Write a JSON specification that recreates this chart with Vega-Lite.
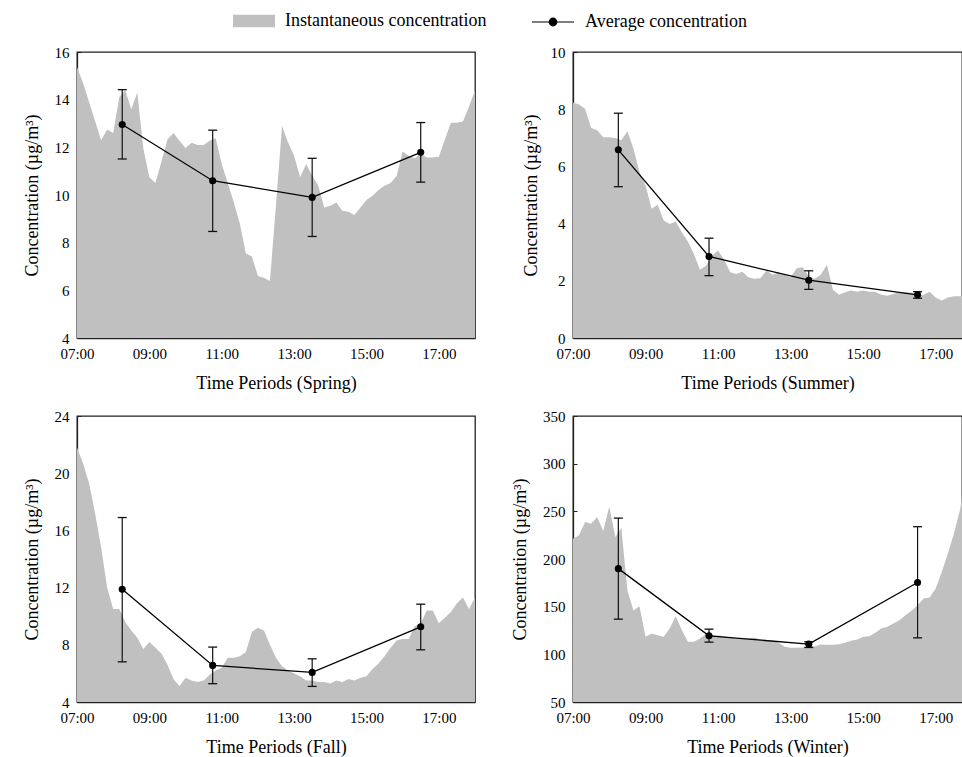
{
"$schema": "https://vega.github.io/schema/vega-lite/v6.json",
"padding": {"left": 22, "top": 0, "right": 0, "bottom": 0},
"config": {
  "font": "Liberation Serif",
  "view": {"stroke": "#222", "strokeWidth": 1.3},
  "axis": {"labelFont": "Liberation Serif", "titleFont": "Liberation Serif", "labelFontSize": 15, "titleFontSize": 18, "titleFontWeight": "normal", "labelColor": "#000", "titleColor": "#000", "domainColor": "#222", "domainWidth": 1.3, "tickColor": "#222", "tickWidth": 1, "tickSize": -4, "labelPadding": 12, "labelFlush": false, "labelOverlap": false, "grid": false},
  "axisX": {"titlePadding": 13},
  "axisY": {"titlePadding": 13},
  "legend": {"orient": "none", "direction": "horizontal", "title": null, "padding": 0, "labelFont": "Liberation Serif", "labelFontSize": 18, "labelColor": "#000", "labelLimit": 400, "labelOffset": 10, "symbolSize": 1764, "symbolOpacity": 1}
},
"datasets": {
  "area": [
    {"t": 7, "spring": 15.37, "summer": 8.23, "fall": 21.8, "winter": 221.3},
    {"t": 7.167, "spring": 14.7, "summer": 8.16, "fall": 20.7, "winter": 224.8},
    {"t": 7.333, "spring": 13.9, "summer": 8.02, "fall": 19.3, "winter": 238.7},
    {"t": 7.5, "spring": 13.1, "summer": 7.34, "fall": 17.2, "winter": 237},
    {"t": 7.667, "spring": 12.3, "summer": 7.26, "fall": 14.8, "winter": 244},
    {"t": 7.833, "spring": 12.75, "summer": 7.02, "fall": 12.0, "winter": 229.3},
    {"t": 8, "spring": 12.6, "summer": 7.02, "fall": 10.5, "winter": 255},
    {"t": 8.167, "spring": 14.1, "summer": 6.99, "fall": 10.5, "winter": 223},
    {"t": 8.333, "spring": 14.4, "summer": 6.91, "fall": 9.6, "winter": 232.8},
    {"t": 8.5, "spring": 13.6, "summer": 7.23, "fall": 9.0, "winter": 167},
    {"t": 8.667, "spring": 14.3, "summer": 6.62, "fall": 8.5, "winter": 146},
    {"t": 8.833, "spring": 11.95, "summer": 5.8, "fall": 7.7, "winter": 150.5},
    {"t": 9, "spring": 10.75, "summer": 5.33, "fall": 8.2, "winter": 118.4},
    {"t": 9.167, "spring": 10.5, "summer": 4.52, "fall": 7.8, "winter": 121.9},
    {"t": 9.333, "spring": 11.4, "summer": 4.66, "fall": 7.4, "winter": 120},
    {"t": 9.5, "spring": 12.33, "summer": 4.11, "fall": 6.6, "winter": 118.4},
    {"t": 9.667, "spring": 12.6, "summer": 3.99, "fall": 5.6, "winter": 127},
    {"t": 9.833, "spring": 12.28, "summer": 4.07, "fall": 5.1, "winter": 140},
    {"t": 10, "spring": 11.97, "summer": 3.7, "fall": 5.7, "winter": 125.4},
    {"t": 10.167, "spring": 12.19, "summer": 3.37, "fall": 5.5, "winter": 113.2},
    {"t": 10.333, "spring": 12.1, "summer": 2.94, "fall": 5.4, "winter": 113.2},
    {"t": 10.5, "spring": 12.1, "summer": 2.39, "fall": 5.5, "winter": 116.6},
    {"t": 10.667, "spring": 12.28, "summer": 2.53, "fall": 5.9, "winter": 121.2},
    {"t": 10.833, "spring": 12.38, "summer": 2.88, "fall": 6.2, "winter": 120},
    {"t": 11, "spring": 11.3, "summer": 3.06, "fall": 6.4, "winter": 120},
    {"t": 11.167, "spring": 10.5, "summer": 2.74, "fall": 7.1, "winter": 119},
    {"t": 11.333, "spring": 9.7, "summer": 2.3, "fall": 7.1, "winter": 117.7},
    {"t": 11.5, "spring": 8.8, "summer": 2.24, "fall": 7.2, "winter": 116.6},
    {"t": 11.667, "spring": 7.55, "summer": 2.32, "fall": 7.5, "winter": 116.6},
    {"t": 11.833, "spring": 7.42, "summer": 2.12, "fall": 8.9, "winter": 116.6},
    {"t": 12, "spring": 6.6, "summer": 2.07, "fall": 9.2, "winter": 117.7},
    {"t": 12.167, "spring": 6.53, "summer": 2.09, "fall": 9.0, "winter": 115.6},
    {"t": 12.333, "spring": 6.39, "summer": 2.36, "fall": 8.0, "winter": 114.9},
    {"t": 12.5, "spring": 9.6, "summer": 2.21, "fall": 7.1, "winter": 114.2},
    {"t": 12.667, "spring": 12.89, "summer": 2.3, "fall": 6.5, "winter": 112.1},
    {"t": 12.833, "spring": 12.2, "summer": 2.21, "fall": 6.2, "winter": 108},
    {"t": 13, "spring": 11.65, "summer": 2.12, "fall": 6.0, "winter": 106.9},
    {"t": 13.167, "spring": 10.74, "summer": 2.44, "fall": 5.8, "winter": 106.9},
    {"t": 13.333, "spring": 11.3, "summer": 2.47, "fall": 5.5, "winter": 107.2},
    {"t": 13.5, "spring": 10.81, "summer": 2.16, "fall": 5.5, "winter": 108},
    {"t": 13.667, "spring": 10.4, "summer": 2.07, "fall": 5.4, "winter": 108.6},
    {"t": 13.833, "spring": 9.48, "summer": 2.21, "fall": 5.4, "winter": 110.4},
    {"t": 14, "spring": 9.55, "summer": 2.56, "fall": 5.3, "winter": 110},
    {"t": 14.167, "spring": 9.69, "summer": 1.69, "fall": 5.5, "winter": 110},
    {"t": 14.333, "spring": 9.34, "summer": 1.51, "fall": 5.4, "winter": 110.7},
    {"t": 14.5, "spring": 9.3, "summer": 1.6, "fall": 5.6, "winter": 112.1},
    {"t": 14.667, "spring": 9.16, "summer": 1.66, "fall": 5.5, "winter": 114.2},
    {"t": 14.833, "spring": 9.48, "summer": 1.62, "fall": 5.7, "winter": 115.6},
    {"t": 15, "spring": 9.79, "summer": 1.66, "fall": 5.8, "winter": 118.4},
    {"t": 15.167, "spring": 9.97, "summer": 1.62, "fall": 6.3, "winter": 119.1},
    {"t": 15.333, "spring": 10.21, "summer": 1.62, "fall": 6.7, "winter": 122.6},
    {"t": 15.5, "spring": 10.39, "summer": 1.51, "fall": 7.2, "winter": 127.1},
    {"t": 15.667, "spring": 10.5, "summer": 1.48, "fall": 7.8, "winter": 128.9},
    {"t": 15.833, "spring": 10.8, "summer": 1.54, "fall": 8.3, "winter": 132.4},
    {"t": 16, "spring": 11.82, "summer": 1.6, "fall": 8.4, "winter": 135.8},
    {"t": 16.167, "spring": 11.65, "summer": 1.6, "fall": 8.4, "winter": 141},
    {"t": 16.333, "spring": 11.54, "summer": 1.58, "fall": 9.3, "winter": 145.6},
    {"t": 16.5, "spring": 11.72, "summer": 1.48, "fall": 9.5, "winter": 151.5},
    {"t": 16.667, "spring": 11.57, "summer": 1.51, "fall": 10.4, "winter": 158.5},
    {"t": 16.833, "spring": 11.57, "summer": 1.62, "fall": 10.4, "winter": 159.6},
    {"t": 17, "spring": 11.6, "summer": 1.42, "fall": 9.5, "winter": 169},
    {"t": 17.167, "spring": 12.33, "summer": 1.31, "fall": 9.9, "winter": 186.4},
    {"t": 17.333, "spring": 13.03, "summer": 1.42, "fall": 10.3, "winter": 205.6},
    {"t": 17.5, "spring": 13.03, "summer": 1.46, "fall": 10.9, "winter": 226.5},
    {"t": 17.667, "spring": 13.08, "summer": 1.46, "fall": 11.3, "winter": 251},
    {"t": 17.833, "spring": 13.7, "summer": 1.42, "fall": 10.5, "winter": 290},
    {"t": 18, "spring": 14.4, "summer": 1.45, "fall": 11.3, "winter": 320}
  ],
  "avg": [
    {"season": "Spring", "t": 8.25, "mean": 12.96, "lo": 11.51, "hi": 14.42},
    {"season": "Spring", "t": 10.75, "mean": 10.6, "lo": 8.47, "hi": 12.72},
    {"season": "Spring", "t": 13.5, "mean": 9.9, "lo": 8.26, "hi": 11.54},
    {"season": "Spring", "t": 16.5, "mean": 11.79, "lo": 10.54, "hi": 13.04},
    {"season": "Summer", "t": 8.25, "mean": 6.58, "lo": 5.29, "hi": 7.86},
    {"season": "Summer", "t": 10.75, "mean": 2.85, "lo": 2.18, "hi": 3.49},
    {"season": "Summer", "t": 13.5, "mean": 2.02, "lo": 1.70, "hi": 2.35},
    {"season": "Summer", "t": 16.5, "mean": 1.51, "lo": 1.39, "hi": 1.62},
    {"season": "Fall", "t": 8.25, "mean": 11.88, "lo": 6.81, "hi": 16.9},
    {"season": "Fall", "t": 10.75, "mean": 6.56, "lo": 5.28, "hi": 7.84},
    {"season": "Fall", "t": 13.5, "mean": 6.07, "lo": 5.09, "hi": 7.02},
    {"season": "Fall", "t": 16.5, "mean": 9.26, "lo": 7.65, "hi": 10.84},
    {"season": "Winter", "t": 8.25, "mean": 189.9, "lo": 136.9, "hi": 242.9},
    {"season": "Winter", "t": 10.75, "mean": 119.4, "lo": 112.8, "hi": 126.4},
    {"season": "Winter", "t": 13.5, "mean": 110.7, "lo": 107.2, "hi": 113.2},
    {"season": "Winter", "t": 16.5, "mean": 175.3, "lo": 117.3, "hi": 233.9}
  ]
},
"columns": 2,
"spacing": {"row": 78, "column": 98},
"bounds": "flush",
"resolve": {"scale": {"fill": "shared", "stroke": "shared"}},
"concat": [
  {
    "width": 398, "height": 286,
    "encoding": {"x": {"field": "t", "type": "quantitative", "scale": {"domain": [7, 18], "nice": false, "zero": false}, "axis": {"values": [7, 9, 11, 13, 15, 17], "labelExpr": "(datum.value < 10 ? '0' : '') + datum.value + ':00'", "title": "Time Periods (Spring)"}}},
    "layer": [
      {"data": {"name": "area"}, "mark": {"type": "area", "clip": true, "opacity": 1},
       "encoding": {
         "y": {"field": "spring", "type": "quantitative", "scale": {"domain": [4, 16], "nice": false, "zero": false}, "axis": {"values": [4, 6, 8, 10, 12, 14, 16], "title": "Concentration (µg/m³)"}},
         "fill": {"datum": "Instantaneous concentration", "type": "nominal", "scale": {"domain": ["Instantaneous concentration"], "range": ["#c0c0c0"]},
           "legend": {"legendX": 156, "legendY": -52, "symbolType": "M-1,-0.3H1V0.3H-1Z", "symbolStrokeWidth": 0}}
       }},
      {"data": {"name": "avg"}, "transform": [{"filter": "datum.season === 'Spring'"}],
       "layer": [
         {"mark": {"type": "rule", "color": "#111", "strokeWidth": 1.2}, "encoding": {"y": {"field": "lo", "type": "quantitative", "scale": {"domain": [4, 16], "nice": false, "zero": false}}, "y2": {"field": "hi"}}},
         {"mark": {"type": "tick", "orient": "horizontal", "color": "#111", "size": 9, "thickness": 1.3, "opacity": 1}, "encoding": {"y": {"field": "lo", "type": "quantitative", "scale": {"domain": [4, 16], "nice": false, "zero": false}}}},
         {"mark": {"type": "tick", "orient": "horizontal", "color": "#111", "size": 9, "thickness": 1.3, "opacity": 1}, "encoding": {"y": {"field": "hi", "type": "quantitative", "scale": {"domain": [4, 16], "nice": false, "zero": false}}}},
         {"mark": {"type": "line", "strokeWidth": 1.3}, "encoding": {"y": {"field": "mean", "type": "quantitative", "scale": {"domain": [4, 16], "nice": false, "zero": false}},
            "stroke": {"datum": "Average concentration", "type": "nominal", "scale": {"domain": ["Average concentration"], "range": ["#000000"]},
              "legend": {"legendX": 454, "legendY": -52, "symbolType": "M-1,0H1M0.18,0A0.18,0.18,0,1,1,-0.18,0A0.18,0.18,0,1,1,0.18,0", "symbolStrokeWidth": 1.2, "symbolFillColor": "#000"}}}},
         {"mark": {"type": "point", "filled": true, "color": "#000", "size": 50, "opacity": 1}, "encoding": {"y": {"field": "mean", "type": "quantitative", "scale": {"domain": [4, 16], "nice": false, "zero": false}}}}
       ]}
    ]
  },
  {
    "width": 389, "height": 286,
    "encoding": {"x": {"field": "t", "type": "quantitative", "scale": {"domain": [7, 17.725], "nice": false, "zero": false}, "axis": {"values": [7, 9, 11, 13, 15, 17], "labelExpr": "(datum.value < 10 ? '0' : '') + datum.value + ':00'", "title": "Time Periods (Summer)"}}},
    "layer": [
      {"data": {"name": "area"}, "mark": {"type": "area", "clip": true, "opacity": 1, "color": "#c0c0c0"},
       "encoding": {
         "y": {"field": "summer", "type": "quantitative", "scale": {"domain": [0, 10], "nice": false, "zero": false}, "axis": {"values": [0, 2, 4, 6, 8, 10], "title": "Concentration (µg/m³)", "titlePadding": 10}}
       }},
      {"data": {"name": "avg"}, "transform": [{"filter": "datum.season === 'Summer'"}],
       "layer": [
         {"mark": {"type": "rule", "color": "#111", "strokeWidth": 1.2}, "encoding": {"y": {"field": "lo", "type": "quantitative", "scale": {"domain": [0, 10], "nice": false, "zero": false}}, "y2": {"field": "hi"}}},
         {"mark": {"type": "tick", "orient": "horizontal", "color": "#111", "size": 9, "thickness": 1.3, "opacity": 1}, "encoding": {"y": {"field": "lo", "type": "quantitative", "scale": {"domain": [0, 10], "nice": false, "zero": false}}}},
         {"mark": {"type": "tick", "orient": "horizontal", "color": "#111", "size": 9, "thickness": 1.3, "opacity": 1}, "encoding": {"y": {"field": "hi", "type": "quantitative", "scale": {"domain": [0, 10], "nice": false, "zero": false}}}},
         {"mark": {"type": "line", "color": "#000", "strokeWidth": 1.3}, "encoding": {"y": {"field": "mean", "type": "quantitative", "scale": {"domain": [0, 10], "nice": false, "zero": false}}}},
         {"mark": {"type": "point", "filled": true, "color": "#000", "size": 50, "opacity": 1}, "encoding": {"y": {"field": "mean", "type": "quantitative", "scale": {"domain": [0, 10], "nice": false, "zero": false}}}}
       ]}
    ]
  },
  {
    "width": 398, "height": 286,
    "encoding": {"x": {"field": "t", "type": "quantitative", "scale": {"domain": [7, 18], "nice": false, "zero": false}, "axis": {"values": [7, 9, 11, 13, 15, 17], "labelExpr": "(datum.value < 10 ? '0' : '') + datum.value + ':00'", "title": "Time Periods (Fall)"}}},
    "layer": [
      {"data": {"name": "area"}, "mark": {"type": "area", "clip": true, "opacity": 1, "color": "#c0c0c0"},
       "encoding": {
         "y": {"field": "fall", "type": "quantitative", "scale": {"domain": [4, 24], "nice": false, "zero": false}, "axis": {"values": [4, 8, 12, 16, 20, 24], "title": "Concentration (µg/m³)"}}
       }},
      {"data": {"name": "avg"}, "transform": [{"filter": "datum.season === 'Fall'"}],
       "layer": [
         {"mark": {"type": "rule", "color": "#111", "strokeWidth": 1.2}, "encoding": {"y": {"field": "lo", "type": "quantitative", "scale": {"domain": [4, 24], "nice": false, "zero": false}}, "y2": {"field": "hi"}}},
         {"mark": {"type": "tick", "orient": "horizontal", "color": "#111", "size": 9, "thickness": 1.3, "opacity": 1}, "encoding": {"y": {"field": "lo", "type": "quantitative", "scale": {"domain": [4, 24], "nice": false, "zero": false}}}},
         {"mark": {"type": "tick", "orient": "horizontal", "color": "#111", "size": 9, "thickness": 1.3, "opacity": 1}, "encoding": {"y": {"field": "hi", "type": "quantitative", "scale": {"domain": [4, 24], "nice": false, "zero": false}}}},
         {"mark": {"type": "line", "color": "#000", "strokeWidth": 1.3}, "encoding": {"y": {"field": "mean", "type": "quantitative", "scale": {"domain": [4, 24], "nice": false, "zero": false}}}},
         {"mark": {"type": "point", "filled": true, "color": "#000", "size": 50, "opacity": 1}, "encoding": {"y": {"field": "mean", "type": "quantitative", "scale": {"domain": [4, 24], "nice": false, "zero": false}}}}
       ]}
    ]
  },
  {
    "width": 389, "height": 286,
    "encoding": {"x": {"field": "t", "type": "quantitative", "scale": {"domain": [7, 17.725], "nice": false, "zero": false}, "axis": {"values": [7, 9, 11, 13, 15, 17], "labelExpr": "(datum.value < 10 ? '0' : '') + datum.value + ':00'", "title": "Time Periods (Winter)"}}},
    "layer": [
      {"data": {"name": "area"}, "mark": {"type": "area", "clip": true, "opacity": 1, "color": "#c0c0c0"},
       "encoding": {
         "y": {"field": "winter", "type": "quantitative", "scale": {"domain": [50, 350], "nice": false, "zero": false}, "axis": {"values": [50, 100, 150, 200, 250, 300, 350], "title": "Concentration (µg/m³)"}}
       }},
      {"data": {"name": "avg"}, "transform": [{"filter": "datum.season === 'Winter'"}],
       "layer": [
         {"mark": {"type": "rule", "color": "#111", "strokeWidth": 1.2}, "encoding": {"y": {"field": "lo", "type": "quantitative", "scale": {"domain": [50, 350], "nice": false, "zero": false}}, "y2": {"field": "hi"}}},
         {"mark": {"type": "tick", "orient": "horizontal", "color": "#111", "size": 9, "thickness": 1.3, "opacity": 1}, "encoding": {"y": {"field": "lo", "type": "quantitative", "scale": {"domain": [50, 350], "nice": false, "zero": false}}}},
         {"mark": {"type": "tick", "orient": "horizontal", "color": "#111", "size": 9, "thickness": 1.3, "opacity": 1}, "encoding": {"y": {"field": "hi", "type": "quantitative", "scale": {"domain": [50, 350], "nice": false, "zero": false}}}},
         {"mark": {"type": "line", "color": "#000", "strokeWidth": 1.3}, "encoding": {"y": {"field": "mean", "type": "quantitative", "scale": {"domain": [50, 350], "nice": false, "zero": false}}}},
         {"mark": {"type": "point", "filled": true, "color": "#000", "size": 50, "opacity": 1}, "encoding": {"y": {"field": "mean", "type": "quantitative", "scale": {"domain": [50, 350], "nice": false, "zero": false}}}}
       ]}
    ]
  }
]
}
